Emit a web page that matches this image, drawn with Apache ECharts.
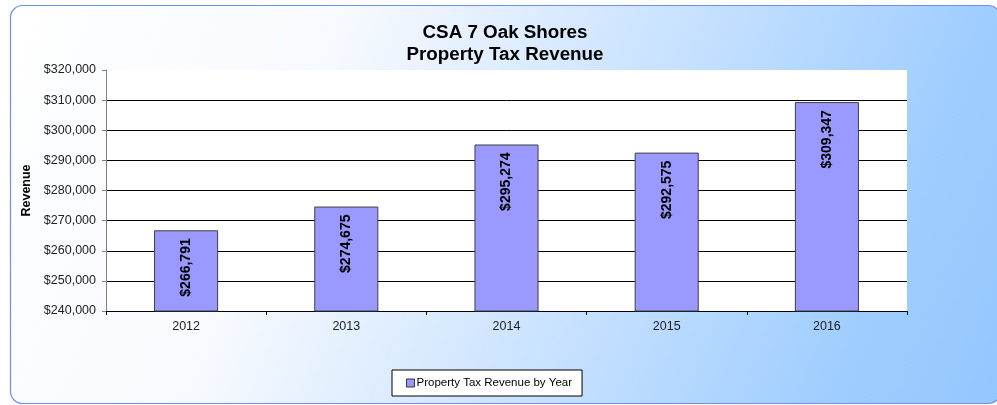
<!DOCTYPE html>
<html>
<head>
<meta charset="utf-8">
<script src="https://cdn.jsdelivr.net/npm/echarts@6/dist/echarts.min.js"></script>
<style>
  html, body { margin: 0; padding: 0; background: #fff; }
  #main { width: 997px; height: 405px; }
</style>
</head>
<body>
<div id="main"></div>
<script>
const years = ['2012', '2013', '2014', '2015', '2016']
const revenue = [266791, 274675, 295274, 292575, 309347]
const seriesName = 'Property Tax Revenue by Year'

const money = function (v) {
  return '$' + v.toLocaleString('en-US')
}

var myChart = echarts.init(document.getElementById('main'))
var font = 'Liberation Sans, Arial, sans-serif'

var option = {
  backgroundColor: '#fff',
  textStyle: { fontFamily: font },
  animation: false,
  graphic: [{
    type: 'rect',
    z: -10,
    silent: true,
    shape: { x: 10.5, y: 5.5, width: 990, height: 398, r: 12 },
    style: {
      fill: new echarts.graphic.LinearGradient(0, 0, 1, 1, [
        { offset: 0, color: '#ffffff' },
        { offset: 0.3, color: '#f6f9fe' },
        { offset: 0.85, color: '#9fcdff' },
        { offset: 1, color: '#94c6ff' }
      ]),
      stroke: '#6f8fef',
      lineWidth: 1.2
    }
  }],
  title: {
    text: 'CSA 7 Oak Shores\nProperty Tax Revenue',
    left: 500,
    textAlign: 'center',
    top: 17,
    textStyle: { fontFamily: font, fontSize: 18.8, fontWeight: 'bold', color: '#000', lineHeight: 22 }
  },
  legend: {
    data: [seriesName],
    left: 392,
    top: 370,
    backgroundColor: '#fff',
    borderColor: '#000',
    borderWidth: 1,
    padding: [7, 10, 7, 14],
    itemWidth: 8,
    itemHeight: 8,
    itemGap: 4,
    icon: 'rect',
    itemStyle: { borderColor: '#333', borderWidth: 1 },
    textStyle: { fontFamily: font, fontSize: 11.5, color: '#000', padding: [0, 0, 0, -3] }
  },
  grid: {
    left: 106,
    right: 90,
    top: 70,
    bottom: 94,
    show: true,
    backgroundColor: '#fff',
    borderWidth: 0
  },
  xAxis: {
    type: 'category',
    data: years,
    axisLine: { lineStyle: { color: '#000', width: 1 } },
    axisTick: { show: true, length: 4, lineStyle: { color: '#000' } },
    axisLabel: { fontFamily: font, fontSize: 12.5, color: '#222', margin: 9 }
  },
  yAxis: {
    type: 'value',
    min: 240000,
    max: 320000,
    interval: 10000,
    name: 'Revenue',
    nameLocation: 'middle',
    nameRotate: 90,
    nameGap: 70,
    nameTextStyle: { fontFamily: font, fontSize: 12.5, fontWeight: 'bold', color: '#000' },
    axisLine: { show: true, lineStyle: { color: '#808080', width: 1 } },
    axisTick: { show: true, length: 4, lineStyle: { color: '#808080' } },
    axisLabel: {
      fontFamily: font, fontSize: 12.5, color: '#222', margin: 10,
      formatter: money
    },
    splitLine: { show: true, showMaxLine: false, lineStyle: { color: '#000', width: 1 } }
  },
  series: [{
    name: seriesName,
    type: 'bar',
    data: revenue,
    barWidth: '40%',
    itemStyle: { color: '#9999ff', borderColor: '#404040', borderWidth: 1 },
    label: {
      show: true,
      position: 'insideTop',
      rotate: 90,
      align: 'right',
      verticalAlign: 'middle',
      distance: 8,
      fontFamily: font,
      fontSize: 14,
      fontWeight: 'bold',
      color: '#000',
      formatter: function (p) { return money(p.value) }
    }
  }]
}
myChart.setOption(option)
</script>
</body>
</html>
